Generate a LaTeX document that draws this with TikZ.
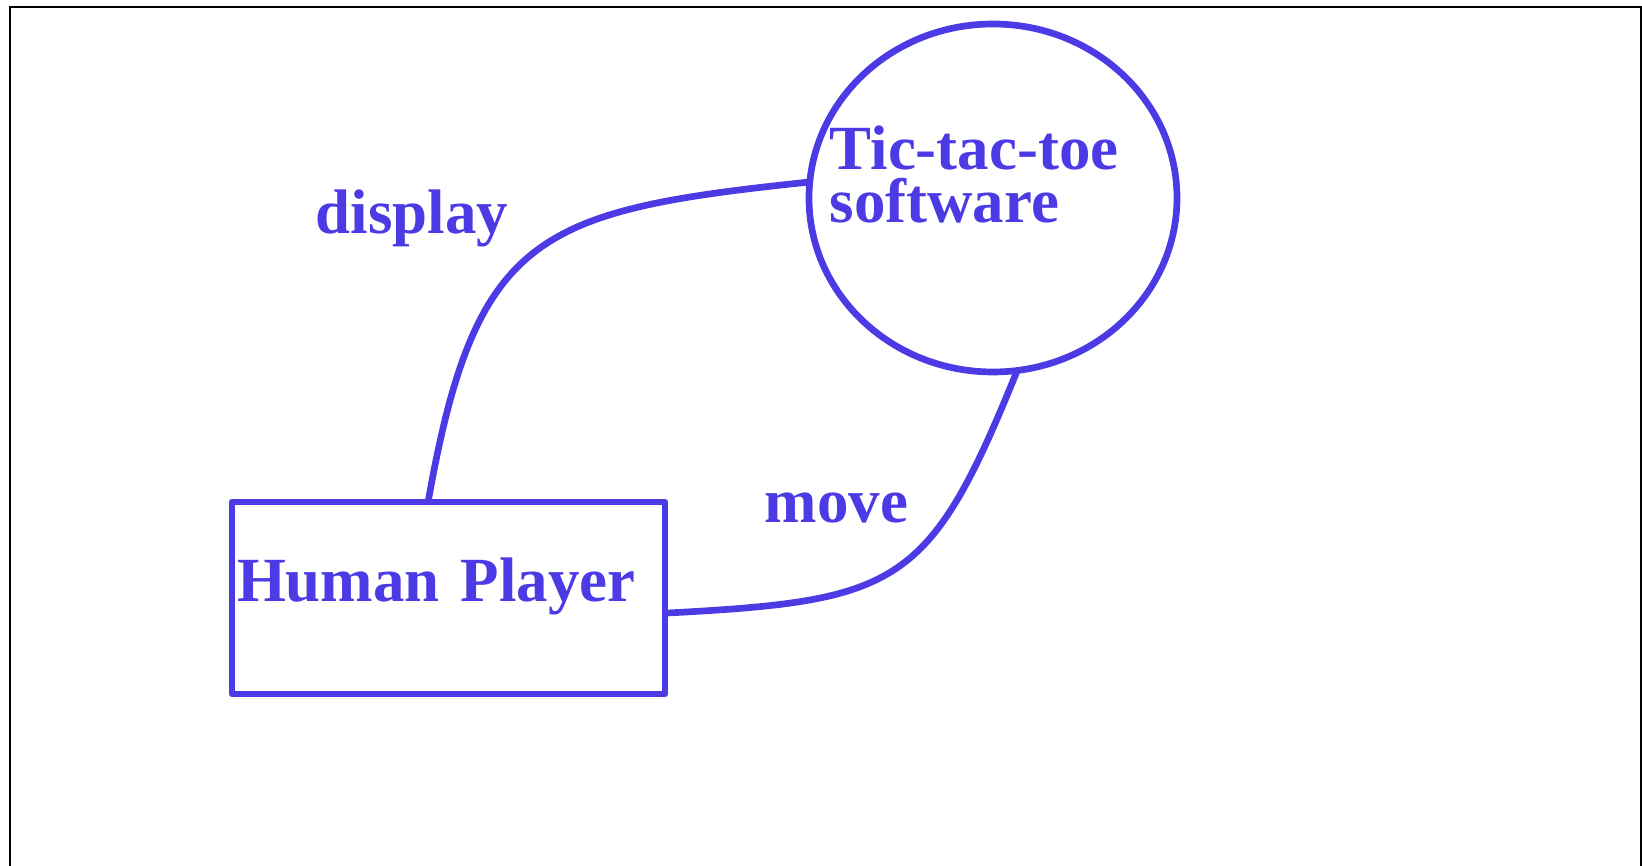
\documentclass[tikz,border=0pt]{standalone}
\usepackage{fontspec}
\setmainfont{Liberation Serif}
\usetikzlibrary{shapes.geometric}
\definecolor{ctxblue}{RGB}{76,58,228}

\begin{document}
\begin{tikzpicture}[
    every node/.style={text=ctxblue, inner sep=0pt,
      font=\fontsize{17.9}{15.3}\selectfont\bfseries},
    entity/.style={draw=ctxblue, line width=1.9pt, line join=round, outer sep=0pt},
    flow/.style={draw=ctxblue, line width=1.9pt}]
    \useasboundingbox (0,0) rectangle (16.42,8.66);
    % --- page frame, open at the bottom ---
    \draw[line width=0.65pt] (0.10,-0.5) -- (0.10,8.59) -- (16.41,8.59) -- (16.41,-0.5);
    % --- external entity ---
    \node[entity, rectangle, minimum width=4.33cm, minimum height=1.92cm,
      text width=4.23cm, inner xsep=0.05cm, align=left,
      text height=1cm, text depth=0.92cm] (player) at (4.485,2.68) {Human Player};
    % --- the system ---
    \node[entity, ellipse, minimum width=3.68cm, minimum height=3.48cm] (game) at (9.93,6.68) {};
    \node[anchor=base west, align=left] (gamename) at (8.29,6.43) {Tic-tac-toe\\software};
    % --- data flows ---
    \draw[flow] (player.102) to[out=80, in=186, looseness=1.4] (game.175);
    \draw[flow] (player.-4) to[out=3, in=248, looseness=1.4] (game.278);
    \node[anchor=base west] (displaylbl) at (3.15,6.32) {display};
    \node[anchor=base west] (movelbl) at (7.64,3.43) {move};
\end{tikzpicture}
\end{document}
